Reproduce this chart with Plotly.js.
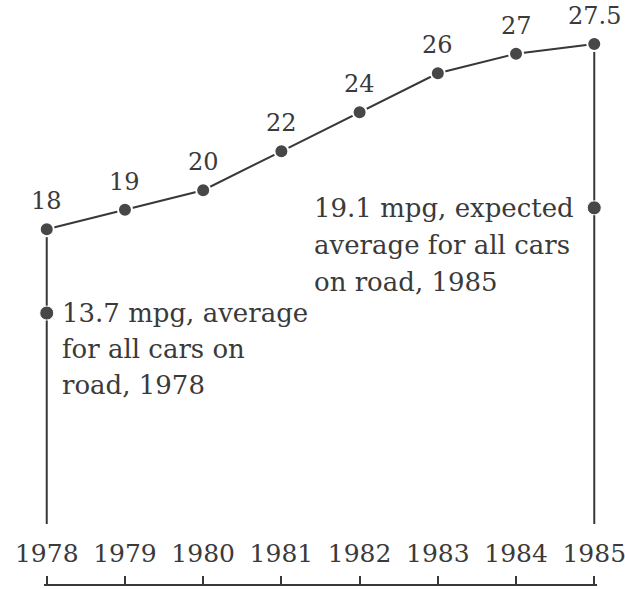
<!DOCTYPE html>
<html>
<head>
<meta charset="utf-8">
<script src="https://cdn.plot.ly/plotly-3.0.1.min.js"></script>
<style>html,body{margin:0;padding:0;background:#fff;}#chart{width:625px;height:589px;}</style>
</head>
<body>
<div id="chart"></div>
<script>
// Data
const years = [1978, 1979, 1980, 1981, 1982, 1983, 1984, 1985];
const mpgStandard = [18, 19, 20, 22, 24, 26, 27, 27.5];
const mpgLabels = ["18", "19", "20", "22", "24", "26", "27", "27.5"];
const fleetYears = [1978, 1985];
const fleetMpg = [13.7, 19.1];
const note1978 = ["13.7 mpg, average", "for all cars on", "road, 1978"];
const note1985 = ["19.1 mpg, expected", "average for all cars", "on road, 1985"];

const ink = "#383838";
const textInk = "#3a3a3a";
const serif = "DejaVu Serif, serif";
const xPad = 0.035;
const yRange = [-0.25, 29.76];
const stemBottom = 2.88;

const traces = [
  // stems
  {x: [fleetYears[0], fleetYears[0]], y: [mpgStandard[0], stemBottom], mode: "lines",
   line: {color: ink, width: 2}, hoverinfo: "skip", cliponaxis: false},
  {x: [fleetYears[1], fleetYears[1]], y: [mpgStandard[mpgStandard.length - 1], stemBottom], mode: "lines",
   line: {color: ink, width: 2}, hoverinfo: "skip", cliponaxis: false},
  // standards line
  {x: years, y: mpgStandard, mode: "lines+markers",
   line: {color: ink, width: 2},
   marker: {color: "#474747", size: 14, line: {color: "#fff", width: 2}},
   cliponaxis: false},
  // fleet averages
  {x: fleetYears, y: fleetMpg, mode: "markers",
   marker: {color: "#474747", size: 14, line: {color: "#fff", width: 1}},
   cliponaxis: false}
];

const annotations = [];
years.forEach((yr, i) => {
  annotations.push({x: yr, y: mpgStandard[i], text: mpgLabels[i], showarrow: false,
    yshift: 28, xanchor: "center", yanchor: "middle",
    font: {family: serif, size: 24, color: textInk}});
});
note1978.forEach((line, i) => {
  annotations.push({x: fleetYears[0], y: fleetMpg[0], text: line, showarrow: false,
    xanchor: "left", yanchor: "middle", xshift: 13, yshift: -36 * i,
    font: {family: serif, size: 26, color: textInk}});
});
note1985.forEach((line, i) => {
  annotations.push({x: fleetYears[1], y: fleetMpg[1], text: line, showarrow: false,
    xanchor: "left", yanchor: "middle", xshift: -282, yshift: -37 * i,
    font: {family: serif, size: 26, color: textInk}});
});

const layout = {
  width: 625, height: 589,
  margin: {l: 44, r: 28, t: 0, b: 4, pad: 0},
  paper_bgcolor: "#fff", plot_bgcolor: "#fff",
  showlegend: false,
  xaxis: {
    range: [years[0] - xPad, years[years.length - 1] + xPad],
    anchor: "free", position: 0, side: "top",
    showline: true, linecolor: ink, linewidth: 2,
    ticks: "outside", ticklen: 8, tickwidth: 2, tickcolor: ink,
    tickvals: years, ticktext: years.map(String),
    ticklabeloverflow: "allow", ticklabelstandoff: 4,
    tickfont: {family: serif, size: 25, color: textInk},
    showgrid: false, zeroline: false, fixedrange: true
  },
  yaxis: {range: yRange, visible: false, showgrid: false, zeroline: false, fixedrange: true},
  annotations: annotations
};

Plotly.newPlot("chart", traces, layout, {displayModeBar: false, staticPlot: true});
</script>
</body>
</html>
